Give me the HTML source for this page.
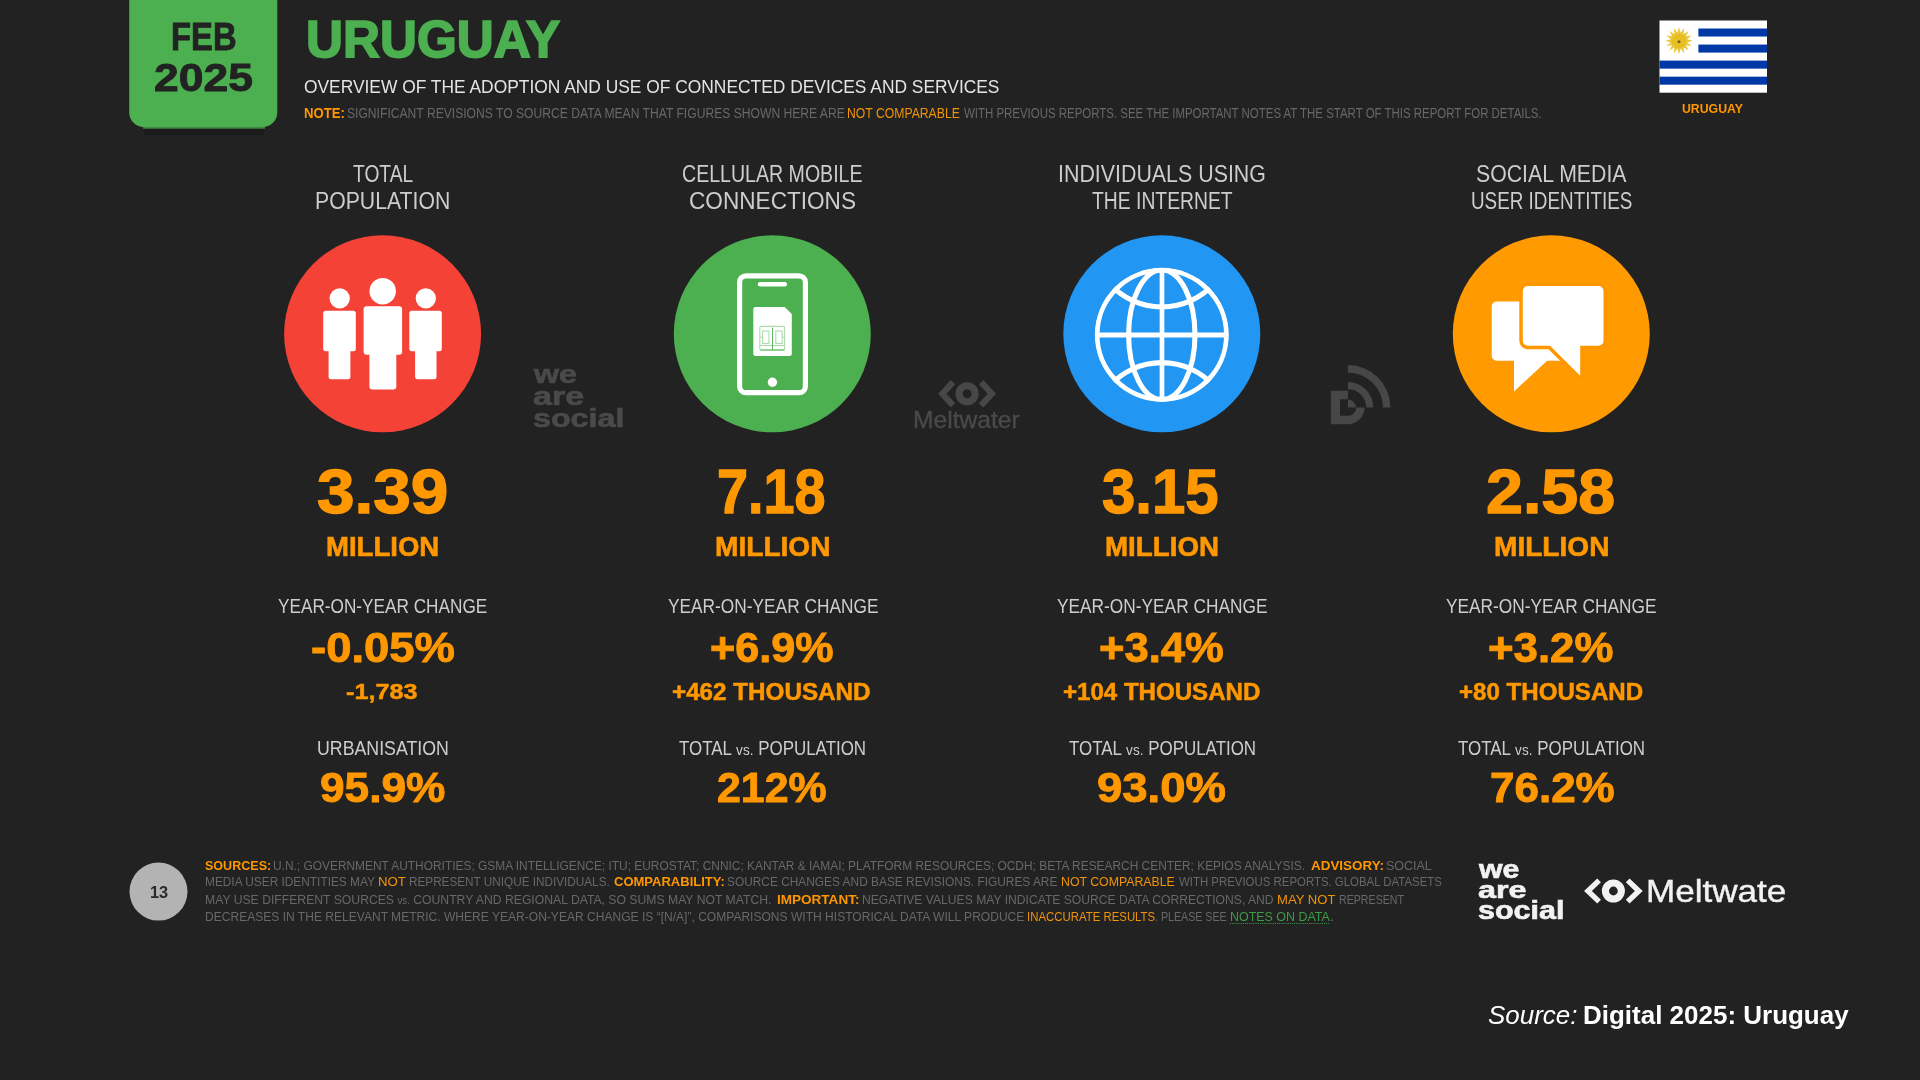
<!DOCTYPE html>
<html lang="en">
<head>
<meta charset="utf-8">
<title>Digital 2025: Uruguay</title>
<style>
html,body{margin:0;padding:0;background:#222222;}
body{width:1920px;height:1080px;position:relative;overflow:hidden;font-family:"Liberation Sans", sans-serif;}
#txt{position:absolute;left:0;top:0;width:1920px;height:1080px;will-change:transform;}
#gfx{position:absolute;left:0;top:0;width:1920px;height:1080px;display:block;}
.t{position:absolute;white-space:nowrap;line-height:1;transform-origin:0 0;margin:0;}
.vs{font-size:80%;}
.ul{text-decoration:underline dotted;text-decoration-thickness:1px;text-underline-offset:2px;}
</style>
</head>
<body>
<svg id="gfx" width="1920" height="1080" viewBox="0 0 1920 1080">
<!-- date badge -->
<rect x="144" y="126" width="120" height="9" fill="#1c1c1d"/>
<rect x="143" y="120" width="122" height="8.8" fill="#3b7c3e"/>
<rect x="129.2" y="-20" width="148.1" height="147.2" rx="15" fill="#4caf50"/>
<!-- flag -->
<g>
<rect x="1659.5" y="20.5" width="107.5" height="72.2" fill="#ffffff"/>
<rect x="1698.40" y="28.52" width="68.60" height="8.02" fill="#0038a8"/>
<rect x="1698.40" y="44.57" width="68.60" height="8.02" fill="#0038a8"/>
<rect x="1659.50" y="60.61" width="107.50" height="8.02" fill="#0038a8"/>
<rect x="1659.50" y="76.66" width="107.50" height="8.02" fill="#0038a8"/>
<polygon points="1679.00,27.00 1680.60,32.76 1684.28,28.05 1683.56,33.98 1688.76,31.04 1685.82,36.24 1691.75,35.52 1687.04,39.20 1692.80,40.80 1687.04,42.40 1691.75,46.08 1685.82,45.36 1688.76,50.56 1683.56,47.62 1684.28,53.55 1680.60,48.84 1679.00,54.60 1677.40,48.84 1673.72,53.55 1674.44,47.62 1669.24,50.56 1672.18,45.36 1666.25,46.08 1670.96,42.40 1665.20,40.80 1670.96,39.20 1666.25,35.52 1672.18,36.24 1669.24,31.04 1674.44,33.98 1673.72,28.05 1677.40,32.76" fill="#ecc93a"/>
<circle cx="1679" cy="40.8" r="7.6" fill="#e6bf24"/>
<circle cx="1679" cy="41.8" r="1.5" fill="#7d5f10"/>
</g>
<!-- stat circles -->
<circle cx="382.6" cy="333.85" r="98.5" fill="#f44336"/>
<circle cx="772.3" cy="333.85" r="98.5" fill="#4caf50"/>
<circle cx="1161.8" cy="333.85" r="98.5" fill="#2196f3"/>
<circle cx="1551.3" cy="333.85" r="98.5" fill="#ff9a00"/>
<!-- people icon -->
<g fill="#ffffff">
<circle cx="339.7" cy="298.4" r="10.1"/><rect x="323.2" y="310.7" width="32.6" height="40.5" rx="2.5"/><rect x="328.6" y="345" width="21.8" height="34.3" rx="2.5"/>
<circle cx="382.7" cy="291.2" r="13.2"/><rect x="363.6" y="306.2" width="38.5" height="48.6" rx="3"/><rect x="369.4" y="348" width="26.9" height="41.4" rx="3"/>
<circle cx="425.8" cy="298.4" r="10.1"/><rect x="409.3" y="310.7" width="32.5" height="40.5" rx="2.5"/><rect x="415.1" y="345" width="21.4" height="34.3" rx="2.5"/>
</g>
<!-- phone icon -->
<g>
<rect x="739.6" y="275.8" width="65.8" height="116.9" rx="6.5" fill="none" stroke="#ffffff" stroke-width="5.2"/>
<line x1="760" y1="284.2" x2="784.8" y2="284.2" stroke="#ffffff" stroke-width="4.4" stroke-linecap="round"/>
<circle cx="772.4" cy="382.2" r="4.7" fill="#ffffff"/>
<path d="M755.3,306.9 H784.7 L791.8,314 V354 a2,2 0 0 1 -2,2 H755.3 a2,2 0 0 1 -2,-2 V308.9 a2,2 0 0 1 2,-2 Z" fill="#ffffff"/>
<g fill="none" stroke="#4caf50" stroke-width="1.1">
<g opacity="0.45">
<rect x="759.8" y="326.4" width="24.8" height="23.6" rx="1.2"/>
<rect x="762.6" y="331" width="6.4" height="12.5"/>
<rect x="775.8" y="331" width="6.4" height="12.5"/>
<line x1="759.8" y1="337.2" x2="762.6" y2="337.2"/><line x1="782.2" y1="337.2" x2="784.6" y2="337.2"/>
<line x1="759.8" y1="345.5" x2="784.6" y2="345.5"/>
</g>
<line x1="772.5" y1="327.5" x2="772.5" y2="350" opacity="0.9"/>
<line x1="760.2" y1="350" x2="784.4" y2="350" opacity="0.85"/>
</g>
</g>
<!-- globe icon -->
<clipPath id="gc"><circle cx="1161.8" cy="334.8" r="67"/></clipPath>
<g fill="none" stroke="#ffffff" stroke-width="5.1" clip-path="url(#gc)">
<circle cx="1161.8" cy="334.8" r="64.8"/>
<ellipse cx="1161.8" cy="334.8" rx="33.2" ry="64.8"/>
<line x1="1162" y1="270" x2="1162" y2="400" stroke-width="4.7"/>
<line x1="1097" y1="335" x2="1226.6" y2="335"/>
<path d="M1109.8,284 A70.4,70.4 0 0 0 1213.8,284"/>
<path d="M1109.8,385.6 A70.4,70.4 0 0 1 1213.8,385.6"/>
</g>
<!-- chat icon -->
<g>
<path d="M1496.7,301.6 H1570 a5,5 0 0 1 5,5 V355.7 a5,5 0 0 1 -5,5 H1547.1 L1514,391.4 V360.7 H1496.7 a5,5 0 0 1 -5,-5 V306.6 a5,5 0 0 1 5,-5 Z" fill="#ffffff"/>
<path d="M1527.8,286 H1598.5 a5,5 0 0 1 5,5 V340.7 a5,5 0 0 1 -5,5 H1580.2 V375.8 L1550,345.7 H1527.8 a5,5 0 0 1 -5,-5 V291 a5,5 0 0 1 5,-5 Z" fill="#ffffff" stroke="#ff9800" stroke-width="7" stroke-linejoin="round" paint-order="stroke"/>
</g>
<!-- watermarks -->
<g fill="none" stroke="#474747">
<circle cx="967.1" cy="393.75" r="8.05" stroke-width="7.10"/>
<polyline points="953.00,382.05 942.34,393.75 953.00,405.45" stroke-width="6.2" stroke-linejoin="miter"/>
<polyline points="981.20,382.05 991.86,393.75 981.20,405.45" stroke-width="6.2" stroke-linejoin="miter"/>
</g>
<g fill="#474747">
<path d="M1330.83,390.83 L1347.92,390.83 L1347.92,399.17 L1340.00,399.17 L1340.00,415.83 L1347.92,415.83 A8.33,8.33 0 0 0 1356.25,407.50 L1364.58,407.50 A16.67,16.67 0 0 1 1347.92,424.17 L1330.83,424.17 Z"/>
<path d="M1347.92,399.58 A7.92,7.92 0 0 1 1355.83,407.50 L1347.92,407.50 Z"/>
<path d="M1347.92,382.08 A25.42,25.42 0 0 1 1373.33,407.50 L1366.25,407.50 A18.33,18.33 0 0 0 1347.92,389.17 Z"/>
<path d="M1347.92,365.00 A42.50,42.50 0 0 1 1390.42,407.50 L1382.92,407.50 A35.00,35.00 0 0 0 1347.92,372.50 Z"/>
</g>
<!-- page number -->
<circle cx="158.5" cy="891.6" r="29" fill="#b3b3b3"/>
<!-- footer meltwater icon -->
<g fill="none" stroke="#f2f2f2">
<circle cx="1613.4" cy="891.0" r="7.95" stroke-width="7.10"/>
<polyline points="1599.10,880.40 1587.95,891.0 1599.10,901.60" stroke-width="5.4" stroke-linejoin="miter"/>
<polyline points="1627.70,880.40 1638.85,891.0 1627.70,901.60" stroke-width="5.4" stroke-linejoin="miter"/>
</g>
</svg>
<div id="txt">
<div class="t" style='left:170.85px;top:16.61px;font-size:39.58px;transform:scaleX(0.8285);color:#222;font-weight:700;-webkit-text-stroke:0.87px #222;'>FEB</div>
<div class="t" style='left:154.21px;top:58.00px;font-size:39.69px;transform:scaleX(1.1201);color:#222;font-weight:700;-webkit-text-stroke:0.87px #222;'>2025</div>
<div class="t" style='left:306.20px;top:14.49px;font-size:51.55px;transform:scaleX(0.9932);color:#4caf50;font-weight:700;-webkit-text-stroke:1.75px #4caf50;'>URUGUAY</div>
<div class="t" style='left:303.79px;top:77.83px;font-size:18.63px;transform:scaleX(0.9341);color:#e4e4e4;'>OVERVIEW OF THE ADOPTION AND USE OF CONNECTED DEVICES AND SERVICES</div>
<div class="t" style='left:304.08px;top:105.86px;font-size:14.22px;transform:scaleX(0.9247);color:#ff9800;font-weight:700;'>NOTE:</div>
<div class="t" style='left:346.62px;top:105.86px;font-size:14.22px;transform:scaleX(0.8522);color:#686868;'>SIGNIFICANT REVISIONS TO SOURCE DATA MEAN THAT FIGURES SHOWN HERE ARE</div>
<div class="t" style='left:847.45px;top:105.86px;font-size:14.22px;transform:scaleX(0.8585);color:#f0940a;'>NOT COMPARABLE</div>
<div class="t" style='left:964.20px;top:105.86px;font-size:14.22px;transform:scaleX(0.8052);color:#686868;'>WITH PREVIOUS REPORTS. SEE THE IMPORTANT NOTES AT THE START OF THIS REPORT FOR DETAILS.</div>
<div class="t" style='left:1682.02px;top:102.10px;font-size:13.23px;transform:scaleX(0.9292);color:#ff9800;font-weight:700;'>URUGUAY</div>
<div class="t" style='left:352.80px;top:163.22px;font-size:23.61px;transform:scaleX(0.8143);color:#cdcdcd;'>TOTAL</div>
<div class="t" style='left:315.24px;top:190.19px;font-size:23.47px;transform:scaleX(0.9045);color:#cdcdcd;'>POPULATION</div>
<div class="t" style='left:317.45px;top:460.04px;font-size:63.18px;transform:scaleX(1.0681);color:#ff9800;font-weight:700;-webkit-text-stroke:1.39px #ff9800;'>3.39</div>
<div class="t" style='left:325.87px;top:532.74px;font-size:28.00px;transform:scaleX(0.9834);color:#ff9800;font-weight:700;-webkit-text-stroke:0.62px #ff9800;'>MILLION</div>
<div class="t" style='left:278.13px;top:596.89px;font-size:19.63px;transform:scaleX(0.8768);color:#cdcdcd;'>YEAR-ON-YEAR CHANGE</div>
<div class="t" style='left:311.08px;top:627.26px;font-size:42.39px;transform:scaleX(1.0726);color:#ff9800;font-weight:700;-webkit-text-stroke:0.93px #ff9800;'>-0.05%</div>
<div class="t" style='left:345.91px;top:679.87px;font-size:22.95px;transform:scaleX(1.0975);color:#ff9800;font-weight:700;-webkit-text-stroke:0.50px #ff9800;'>-1,783</div>
<div class="t" style='left:316.79px;top:738.53px;font-size:19.34px;transform:scaleX(0.9186);color:#cdcdcd;'>URBANISATION</div>
<div class="t" style='left:319.52px;top:766.27px;font-size:43.06px;transform:scaleX(1.0270);color:#ff9800;font-weight:700;-webkit-text-stroke:0.95px #ff9800;'>95.9%</div>
<div class="t" style='left:682.18px;top:163.22px;font-size:23.61px;transform:scaleX(0.8289);color:#cdcdcd;'>CELLULAR MOBILE</div>
<div class="t" style='left:688.94px;top:190.19px;font-size:23.47px;transform:scaleX(0.9631);color:#cdcdcd;'>CONNECTIONS</div>
<div class="t" style='left:717.16px;top:460.04px;font-size:63.18px;transform:scaleX(0.8826);color:#ff9800;font-weight:700;-webkit-text-stroke:1.39px #ff9800;'>7.18</div>
<div class="t" style='left:714.94px;top:532.74px;font-size:28.00px;transform:scaleX(1.0038);color:#ff9800;font-weight:700;-webkit-text-stroke:0.62px #ff9800;'>MILLION</div>
<div class="t" style='left:667.53px;top:596.89px;font-size:19.63px;transform:scaleX(0.8818);color:#cdcdcd;'>YEAR-ON-YEAR CHANGE</div>
<div class="t" style='left:710.15px;top:627.26px;font-size:42.39px;transform:scaleX(1.0180);color:#ff9800;font-weight:700;-webkit-text-stroke:0.93px #ff9800;'>+6.9%</div>
<div class="t" style='left:672.44px;top:680.50px;font-size:23.44px;transform:scaleX(1.0335);color:#ff9800;font-weight:700;-webkit-text-stroke:0.52px #ff9800;'>+462 THOUSAND</div>
<div class="t" style='left:678.94px;top:738.53px;font-size:19.34px;transform:scaleX(0.8765);color:#cdcdcd;'>TOTAL <span class="vs">vs.</span> POPULATION</div>
<div class="t" style='left:717.36px;top:766.27px;font-size:43.06px;transform:scaleX(0.9964);color:#ff9800;font-weight:700;-webkit-text-stroke:0.95px #ff9800;'>212%</div>
<div class="t" style='left:1058.08px;top:163.22px;font-size:23.61px;transform:scaleX(0.9057);color:#cdcdcd;'>INDIVIDUALS USING</div>
<div class="t" style='left:1091.60px;top:190.19px;font-size:23.47px;transform:scaleX(0.8234);color:#cdcdcd;'>THE INTERNET</div>
<div class="t" style='left:1102.07px;top:460.04px;font-size:63.18px;transform:scaleX(0.9485);color:#ff9800;font-weight:700;-webkit-text-stroke:1.39px #ff9800;'>3.15</div>
<div class="t" style='left:1104.85px;top:532.74px;font-size:28.00px;transform:scaleX(0.9905);color:#ff9800;font-weight:700;-webkit-text-stroke:0.62px #ff9800;'>MILLION</div>
<div class="t" style='left:1056.93px;top:596.89px;font-size:19.63px;transform:scaleX(0.8818);color:#cdcdcd;'>YEAR-ON-YEAR CHANGE</div>
<div class="t" style='left:1098.94px;top:627.26px;font-size:42.39px;transform:scaleX(1.0281);color:#ff9800;font-weight:700;-webkit-text-stroke:0.93px #ff9800;'>+3.4%</div>
<div class="t" style='left:1063.05px;top:680.50px;font-size:23.44px;transform:scaleX(1.0272);color:#ff9800;font-weight:700;-webkit-text-stroke:0.52px #ff9800;'>+104 THOUSAND</div>
<div class="t" style='left:1068.94px;top:738.53px;font-size:19.34px;transform:scaleX(0.8765);color:#cdcdcd;'>TOTAL <span class="vs">vs.</span> POPULATION</div>
<div class="t" style='left:1097.38px;top:766.27px;font-size:43.06px;transform:scaleX(1.0570);color:#ff9800;font-weight:700;-webkit-text-stroke:0.95px #ff9800;'>93.0%</div>
<div class="t" style='left:1476.13px;top:163.22px;font-size:23.61px;transform:scaleX(0.9008);color:#cdcdcd;'>SOCIAL MEDIA</div>
<div class="t" style='left:1470.72px;top:190.19px;font-size:23.47px;transform:scaleX(0.8034);color:#cdcdcd;'>USER IDENTITIES</div>
<div class="t" style='left:1486.31px;top:460.04px;font-size:63.18px;transform:scaleX(1.0503);color:#ff9800;font-weight:700;-webkit-text-stroke:1.39px #ff9800;'>2.58</div>
<div class="t" style='left:1493.95px;top:532.74px;font-size:28.00px;transform:scaleX(1.0029);color:#ff9800;font-weight:700;-webkit-text-stroke:0.62px #ff9800;'>MILLION</div>
<div class="t" style='left:1446.33px;top:596.89px;font-size:19.63px;transform:scaleX(0.8818);color:#cdcdcd;'>YEAR-ON-YEAR CHANGE</div>
<div class="t" style='left:1487.73px;top:627.26px;font-size:42.39px;transform:scaleX(1.0331);color:#ff9800;font-weight:700;-webkit-text-stroke:0.93px #ff9800;'>+3.2%</div>
<div class="t" style='left:1459.05px;top:680.50px;font-size:23.44px;transform:scaleX(1.0283);color:#ff9800;font-weight:700;-webkit-text-stroke:0.52px #ff9800;'>+80 THOUSAND</div>
<div class="t" style='left:1457.74px;top:738.53px;font-size:19.34px;transform:scaleX(0.8765);color:#cdcdcd;'>TOTAL <span class="vs">vs.</span> POPULATION</div>
<div class="t" style='left:1489.52px;top:766.27px;font-size:43.06px;transform:scaleX(1.0220);color:#ff9800;font-weight:700;-webkit-text-stroke:0.95px #ff9800;'>76.2%</div>
<div class="t" style='left:149.98px;top:884.40px;font-size:17.25px;transform:scaleX(0.9501);color:#2a2a2a;font-weight:700;'>13</div>
<div class="t" style='left:205.19px;top:858.70px;font-size:13.23px;transform:scaleX(0.9490);color:#ff9800;font-weight:700;'>SOURCES:</div>
<div class="t" style='left:273.25px;top:858.70px;font-size:13.23px;transform:scaleX(0.9014);color:#686868;'>U.N.; GOVERNMENT AUTHORITIES; GSMA INTELLIGENCE; ITU; EUROSTAT; CNNIC; KANTAR &amp; IAMAI; PLATFORM RESOURCES; OCDH; BETA RESEARCH CENTER; KEPIOS ANALYSIS.</div>
<div class="t" style='left:1311.29px;top:858.70px;font-size:13.23px;transform:scaleX(1.0154);color:#ff9800;font-weight:700;'>ADVISORY:</div>
<div class="t" style='left:1386.30px;top:858.70px;font-size:13.23px;transform:scaleX(0.9400);color:#686868;'>SOCIAL</div>
<div class="t" style='left:205.47px;top:875.30px;font-size:13.23px;transform:scaleX(0.8978);color:#686868;'>MEDIA USER IDENTITIES MAY</div>
<div class="t" style='left:378.37px;top:875.30px;font-size:13.23px;transform:scaleX(1.0015);color:#f0940a;'>NOT</div>
<div class="t" style='left:408.68px;top:875.30px;font-size:13.23px;transform:scaleX(0.8883);color:#686868;'>REPRESENT UNIQUE INDIVIDUALS.</div>
<div class="t" style='left:613.79px;top:875.30px;font-size:13.23px;transform:scaleX(0.9843);color:#ff9800;font-weight:700;'>COMPARABILITY:</div>
<div class="t" style='left:726.62px;top:875.30px;font-size:13.23px;transform:scaleX(0.8995);color:#686868;'>SOURCE CHANGES AND BASE REVISIONS. FIGURES ARE</div>
<div class="t" style='left:1060.84px;top:875.30px;font-size:13.23px;transform:scaleX(0.9313);color:#f0940a;'>NOT COMPARABLE</div>
<div class="t" style='left:1178.50px;top:875.30px;font-size:13.23px;transform:scaleX(0.8638);color:#686868;'>WITH PREVIOUS REPORTS. GLOBAL DATASETS</div>
<div class="t" style='left:205.45px;top:892.70px;font-size:13.23px;transform:scaleX(0.9223);color:#686868;'>MAY USE DIFFERENT SOURCES <span class="vs">vs.</span> COUNTRY AND REGIONAL DATA, SO SUMS MAY NOT MATCH.</div>
<div class="t" style='left:777.45px;top:892.70px;font-size:13.23px;transform:scaleX(1.0235);color:#ff9800;font-weight:700;'>IMPORTANT:</div>
<div class="t" style='left:862.25px;top:892.70px;font-size:13.23px;transform:scaleX(0.9176);color:#686868;'>NEGATIVE VALUES MAY INDICATE SOURCE DATA CORRECTIONS, AND</div>
<div class="t" style='left:1276.88px;top:892.70px;font-size:13.23px;transform:scaleX(0.9911);color:#f0940a;'>MAY NOT</div>
<div class="t" style='left:1338.87px;top:892.70px;font-size:13.23px;transform:scaleX(0.8042);color:#686868;'>REPRESENT</div>
<div class="t" style='left:205.46px;top:909.70px;font-size:13.23px;transform:scaleX(0.9114);color:#686868;'>DECREASES IN THE RELEVANT METRIC. WHERE YEAR-ON-YEAR CHANGE IS “[N/A]”, COMPARISONS WITH HISTORICAL DATA WILL PRODUCE</div>
<div class="t" style='left:1026.71px;top:909.70px;font-size:13.23px;transform:scaleX(0.8626);color:#f0940a;'>INACCURATE RESULTS</div>
<div class="t" style='left:1155.17px;top:909.70px;font-size:13.23px;transform:scaleX(0.8058);color:#686868;'>. PLEASE SEE</div>
<div class="t ul" style='left:1230.23px;top:909.70px;font-size:13.23px;transform:scaleX(0.9410);color:#3f9a46;'>NOTES ON DATA</div>
<div class="t" style='left:1330.29px;top:909.70px;font-size:13.23px;transform:scaleX(1.1751);color:#686868;'>.</div>
<div class="t" style='left:534.30px;top:360.65px;font-size:26.25px;transform:scaleX(1.2281);color:#4a4a4a;font-weight:700;-webkit-text-stroke:0.66px #4a4a4a;'>we</div>
<div class="t" style='left:533.27px;top:383.05px;font-size:26.25px;transform:scaleX(1.2961);color:#4a4a4a;font-weight:700;-webkit-text-stroke:0.66px #4a4a4a;'>are</div>
<div class="t" style='left:532.79px;top:404.90px;font-size:26.43px;transform:scaleX(1.2201);color:#4a4a4a;font-weight:700;-webkit-text-stroke:0.66px #4a4a4a;'>social</div>
<div class="t" style='left:912.88px;top:407.59px;font-size:23.75px;transform:scaleX(1.0359);color:#4a4a4a;-webkit-text-stroke:0.35px #4a4a4a;'>Meltwater</div>
<div class="t" style='left:1479.27px;top:856.98px;font-size:25.17px;transform:scaleX(1.2057);color:#f2f2f2;font-weight:700;-webkit-text-stroke:0.63px #f2f2f2;'>we</div>
<div class="t" style='left:1478.30px;top:877.66px;font-size:23.91px;transform:scaleX(1.3512);color:#f2f2f2;font-weight:700;-webkit-text-stroke:0.60px #f2f2f2;'>are</div>
<div class="t" style='left:1477.85px;top:897.87px;font-size:25.53px;transform:scaleX(1.1946);color:#f2f2f2;font-weight:700;-webkit-text-stroke:0.64px #f2f2f2;'>social</div>
<div class="t" style='left:1646.06px;top:877.20px;font-size:30.72px;transform:scaleX(1.1419);color:#f2f2f2;-webkit-text-stroke:0.4px #f2f2f2;'>Meltwate</div>
<div class="t" style='left:1488.28px;top:1003.27px;font-size:25.32px;transform:scaleX(1.0252);color:#ffffff;font-style:italic;'>Source:</div>
<div class="t" style='left:1582.78px;top:1003.27px;font-size:25.32px;transform:scaleX(1.0263);color:#ffffff;font-weight:700;'>Digital 2025: Uruguay</div>
</div>
</body>
</html>
